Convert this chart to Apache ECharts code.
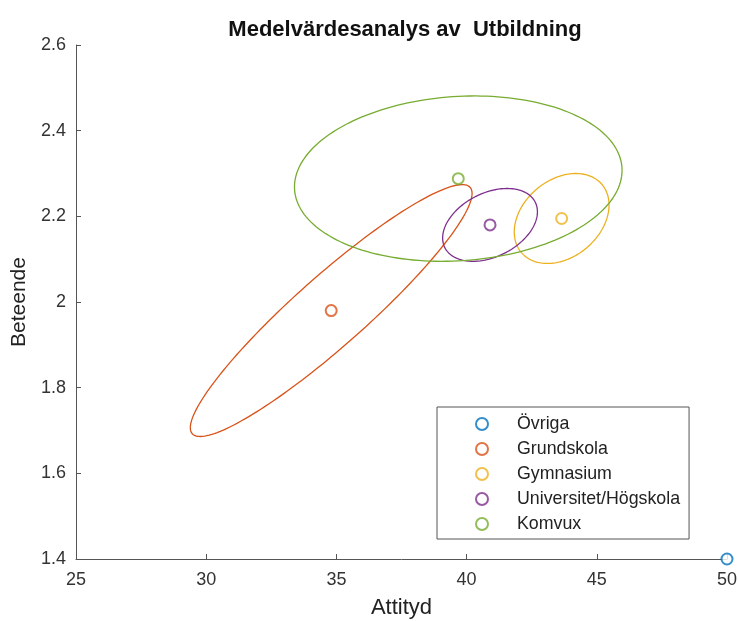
<!DOCTYPE html>
<html>
<head>
<meta charset="utf-8">
<script src="https://cdn.jsdelivr.net/npm/echarts@6/dist/echarts.min.js"></script>
<style>
  html, body { margin: 0; padding: 0; background: #fff; }
  #chart { width: 738px; height: 621px; }
</style>
</head>
<body>
<div id="chart"></div>
<script>
// Groups (utbildning) and their mean values
const groups = ['Övriga', 'Grundskola', 'Gymnasium', 'Universitet/Högskola', 'Komvux'];
const meanAttityd = [50.0, 34.8, 43.65, 40.9, 39.68];
const meanBeteende = [1.4, 1.98, 2.195, 2.18, 2.288];

// Spread ellipses: half-range in x, half-range in y, correlation (null = no ellipse)
const spreadAttityd = [null, 5.41, 1.82, 1.82, 6.29];
const spreadBeteende = [null, 0.294, 0.105, 0.085, 0.193];
const correlation = [null, 0.93, 0.30, 0.36, 0.10];

// Axis ticks
const xTicks = [25, 30, 35, 40, 45, 50];
const yTicks = [1.4, 1.6, 1.8, 2.0, 2.2, 2.4, 2.6];

const colors = ['#0072BD', '#D95319', '#EDB120', '#7E2F8E', '#77AC30'];
const font = '"Liberation Sans", Arial, Helvetica, sans-serif';
const axisColor = '#555';

const ellipseData = [];
groups.forEach((g, i) => {
  if (spreadAttityd[i] != null) {
    ellipseData.push([meanAttityd[i], meanBeteende[i], spreadAttityd[i], spreadBeteende[i], correlation[i], i]);
  }
});

const scatterSeries = groups.map((g, i) => ({
  name: g,
  type: 'scatter',
  data: [[meanAttityd[i], meanBeteende[i]]],
  symbol: 'emptyCircle',
  symbolSize: 11,
  clip: false,
  z: 5,
  itemStyle: { color: colors[i], borderColor: colors[i], borderWidth: 1.2 },
  emphasis: { disabled: true }
}));

// Each ellipse: x = cx + rx cos t, y = cy + ry cos(t - acos(rho))
const ellipseSeries = {
  name: 'ellipser',
  type: 'custom',
  data: ellipseData,
  z: 3,
  silent: true,
  renderItem: function (params, api) {
    const cx = api.value(0), cy = api.value(1);
    const rx = api.value(2), ry = api.value(3), rho = api.value(4);
    const idx = api.value(5);
    const delta = Math.acos(rho);
    const pts = [];
    const n = 180;
    for (let k = 0; k <= n; k++) {
      const t = (k / n) * Math.PI * 2;
      pts.push(api.coord([cx + rx * Math.cos(t), cy + ry * Math.cos(t - delta)]));
    }
    return {
      type: 'polyline',
      shape: { points: pts },
      style: { stroke: colors[idx], lineWidth: 1.3, fill: null }
    };
  }
};

const chart = echarts.init(document.getElementById('chart'), null, { renderer: 'canvas' });
chart.setOption({
  animation: false,
  backgroundColor: '#fff',
  title: {
    text: 'Medelvärdesanalys av  Utbildning',
    left: 400,
    top: 14,
    textAlign: 'center',
    textStyle: { fontFamily: font, fontWeight: 'bold', fontSize: 22, color: '#111' }
  },
  grid: { left: 76, right: 11, top: 45, bottom: 62, containLabel: false, outerBoundsMode: 'none' },
  legend: {
    orient: 'vertical',
    left: 437,
    top: 407,
    data: groups,
    itemWidth: 12,
    itemHeight: 12,
    itemGap: 7,
    padding: [8, 9, 6, 38],
    borderColor: '#555',
    borderWidth: 1,
    backgroundColor: '#fff',
    selectedMode: false,
    textStyle: { fontFamily: font, fontSize: 17.8, color: '#222', lineHeight: 18, padding: [0, 0, 0, 24] }
  },
  xAxis: {
    type: 'value',
    min: 25, max: 50, interval: 5,
    name: 'Attityd',
    nameLocation: 'middle',
    nameGap: 38,
    nameTextStyle: { fontFamily: font, fontSize: 22, color: '#222' },
    axisLine: { show: true, lineStyle: { color: axisColor, width: 1 } },
    axisTick: { show: true, inside: true, length: 5, lineStyle: { color: axisColor } },
    axisLabel: {
      fontFamily: font, fontSize: 18, color: '#333', margin: 12,
      customValues: xTicks
    },
    splitLine: { show: false }
  },
  yAxis: {
    type: 'value',
    min: 1.4, max: 2.6, interval: 0.2,
    name: 'Beteende',
    nameLocation: 'middle',
    nameGap: 45,
    nameTextStyle: { fontFamily: font, fontSize: 21, color: '#222' },
    axisLine: { show: true, lineStyle: { color: axisColor, width: 1 } },
    axisTick: { show: true, inside: true, length: 5, lineStyle: { color: axisColor } },
    axisLabel: {
      fontFamily: font, fontSize: 18, color: '#333', margin: 10,
      formatter: function (v) { return String(parseFloat(v.toFixed(1))); }
    },
    splitLine: { show: false }
  },
  series: [ellipseSeries].concat(scatterSeries)
});
</script>
</body>
</html>
